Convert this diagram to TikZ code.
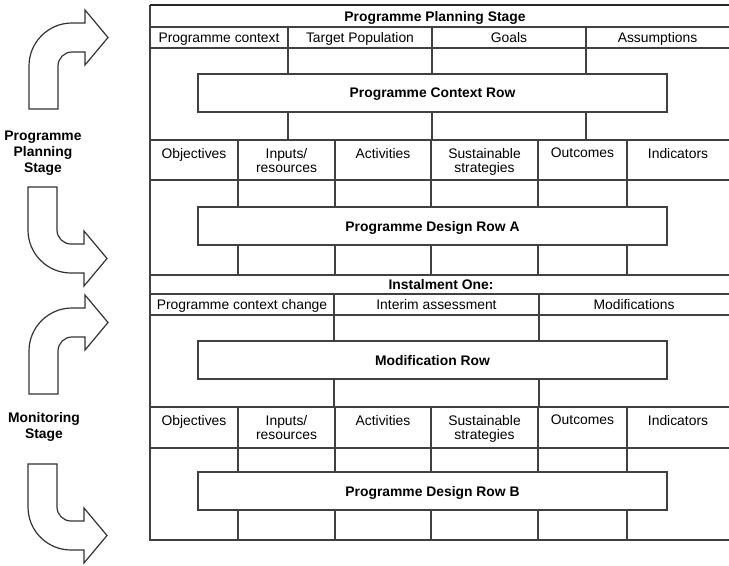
\documentclass[tikz,border=0pt]{standalone}
\usepackage{fontspec}
\setmainfont{Liberation Sans}
\newcommand{\cellfont}{\fontsize{10.4}{10.5}\selectfont}
\begin{document}
\begin{tikzpicture}[
  x=0.75pt, y=-0.75pt,
  grid/.style={draw=black!75, line width=0.9pt},
  topline/.style={draw=black!85, line width=1.4pt},
  rowbox/.style={draw=black!75, line width=0.9pt, fill=white, minimum width=351.75pt, minimum height=28.5pt, text depth=0pt, font=\cellfont\bfseries},
  title/.style={text depth=0pt, font=\cellfont\bfseries},
  cell/.style={text depth=0pt, font=\cellfont},
  colhead/.style={anchor=north, align=center, inner sep=0pt, font=\cellfont},
  stagelabel/.style={align=center, font=\fontsize{10.4}{12}\selectfont\bfseries},
  turnarrow/.style={draw=black!80, line width=0.9pt, fill=white},
  pics/bendarrow/.style={code={
    \draw[turnarrow] (0,0) -- (29,0) -- (29,-43) arc[start angle=180, end angle=270, radius=14]
      -- (56,-57) -- (56,-44) -- (79,-71.5) -- (56,-99) -- (56,-86) -- (43,-86)
      arc[start angle=270, end angle=180, radius=43] -- cycle;
  }}]

\useasboundingbox (0,0) rectangle (729,565);

% Stage arrows and labels on the left
\pic at (29,109) {bendarrow};
\pic[yscale=-1] at (28,187) {bendarrow};
\pic at (29,394) {bendarrow};
\pic[yscale=-1] at (28,464) {bendarrow};
\node[stagelabel] (planlabel) at (43,153) {Programme\\Planning\\Stage};
\node[stagelabel] (monlabel) at (44,427) {Monitoring\\Stage};

% Table frame and row lines
\draw[grid] (150,5) -- (150,540) -- (729,540);
\foreach \y in {27,48,140,180,275,294,315,407,448}
  \draw[grid] (150,\y) -- (729,\y);
\draw[topline] (150,5) -- (729,5);

% Column lines
\foreach \x in {288,432,586}
  \draw[grid] (\x,27) -- (\x,140);
\foreach \x in {238,335,431,538,627} {
  \draw[grid] (\x,140) -- (\x,275);
  \draw[grid] (\x,407) -- (\x,540);
}
\foreach \x in {334,539}
  \draw[grid] (\x,294) -- (\x,407);

% Planning stage
\node[title] (plan) at (435,16) {Programme Planning Stage};
\node[cell] (context) at (219,37.5) {Programme context};
\node[cell] (target) at (360,37.5) {Target Population};
\node[cell] (goals) at (509,37.5) {Goals};
\node[cell] (assume) at (657.5,37.5) {Assumptions};
\node[rowbox] (ctxrow) at (432.5,93) {Programme Context Row};

% Design row A
\node[colhead] (objA) at (194,148) {Objectives};
\node[colhead] (inA) at (286.5,148) {Inputs/\\resources};
\node[colhead] (actA) at (383,148) {Activities};
\node[colhead] (susA) at (484.5,148) {Sustainable\\strategies};
\node[colhead] (outA) at (582.5,148) {Outcomes};
\node[colhead] (indA) at (678,148) {Indicators};
\node[rowbox] (desrowA) at (432.5,226) {Programme Design Row A};

% Instalment one
\node[title] (inst) at (441,284.5) {Instalment One:};
\node[cell] (change) at (242,304.5) {Programme context change};
\node[cell] (interim) at (436.5,304.5) {Interim assessment};
\node[cell] (modif) at (634,304.5) {Modifications};
\node[rowbox] (modrow) at (432.5,360) {Modification Row};

% Design row B
\node[colhead] (objB) at (194,415) {Objectives};
\node[colhead] (inB) at (286.5,415) {Inputs/\\resources};
\node[colhead] (actB) at (383,415) {Activities};
\node[colhead] (susB) at (484.5,415) {Sustainable\\strategies};
\node[colhead] (outB) at (582.5,415) {Outcomes};
\node[colhead] (indB) at (678,415) {Indicators};
\node[rowbox] (desrowB) at (432.5,491) {Programme Design Row B};

\end{tikzpicture}
\end{document}
